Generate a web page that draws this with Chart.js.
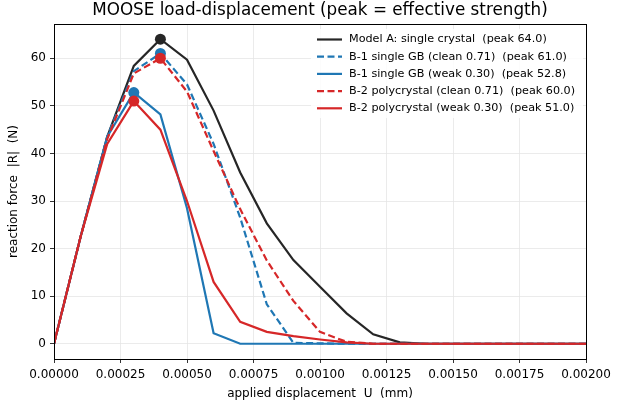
<!DOCTYPE html>
<html>
<head>
<meta charset="utf-8">
<script src="https://cdn.jsdelivr.net/npm/chart.js@4/dist/chart.umd.min.js"></script>
<style>
  html, body { margin: 0; padding: 0; background: #fff; }
  #wrap { width: 624px; height: 406px; }
</style>
</head>
<body>
<div id="wrap"><canvas id="chart" width="624" height="406"></canvas></div>
<script>
// displacement steps (mm)
var displacement = [0, 0.0001, 0.0002, 0.0003, 0.0004, 0.0005, 0.0006, 0.0007, 0.0008, 0.0009, 0.0010,
  0.0011, 0.0012, 0.0013, 0.0014, 0.0015, 0.0016, 0.0017, 0.0018, 0.0019, 0.0020];

// reaction force |R| (N)
var modelA  = [0, 22.5, 43.5, 58.4, 64.0, 59.7, 49.0, 36.0, 25.3, 17.6, 12.0, 6.4, 2.0, 0.3, 0, 0, 0, 0, 0, 0, 0];
var b1Clean = [0, 22.5, 43.5, 57.3, 61.0, 54.5, 42.0, 26.5, 8.3, 0.2, 0.1, 0, 0, 0, 0, 0, 0, 0, 0, 0, 0];
var b1Weak  = [0, 22.5, 43.5, 52.8, 48.2, 28.5, 2.2, 0, 0, 0, 0, 0, 0, 0, 0, 0, 0, 0, 0, 0, 0];
var b2Clean = [0, 22.5, 43.0, 56.8, 60.0, 53.0, 40.5, 28.3, 17.5, 9.0, 2.5, 0.4, 0, 0, 0, 0, 0, 0, 0, 0, 0];
var b2Weak  = [0, 22.5, 42.0, 51.0, 45.0, 30.0, 13.0, 4.6, 2.5, 1.6, 0.9, 0.3, 0, 0, 0, 0, 0, 0, 0, 0, 0];

var seriesLabels = [
  'Model A: single crystal  (peak 64.0)',
  'B-1 single GB (clean 0.71)  (peak 61.0)',
  'B-1 single GB (weak 0.30)  (peak 52.8)',
  'B-2 polycrystal (clean 0.71)  (peak 60.0)',
  'B-2 polycrystal (weak 0.30)  (peak 51.0)'
];

var xTicks = [0, 0.00025, 0.0005, 0.00075, 0.001, 0.00125, 0.0015, 0.00175, 0.002];
var yTicks = [0, 10, 20, 30, 40, 50, 60];

var FONT = '"DejaVu Sans", sans-serif';

function points(values) {
  return displacement.map(function(x, i) { return {x: x, y: values[i]}; });
}

// marker only at the peak of each curve
function peakRadius(values) {
  var peak = Math.max.apply(null, values);
  var idx = values.indexOf(peak);
  return function(ctx) { return ctx.dataIndex === idx ? 5.5 : 0; };
}

function series(i, values, color, dashed) {
  return {
    label: seriesLabels[i],
    data: points(values),
    borderColor: color,
    backgroundColor: color,
    borderWidth: 2.2,
    borderDash: dashed ? [7, 3.5] : [],
    pointRadius: peakRadius(values),
    pointHoverRadius: peakRadius(values),
    pointBorderWidth: 0,
    tension: 0,
    fill: false,
    order: 5 - i
  };
}

var boxPlugin = {
  id: 'box',
  afterDraw: function(chart) {
    var ctx = chart.ctx, a = chart.chartArea;
    ctx.save();

    // axes frame
    ctx.strokeStyle = '#000';
    ctx.lineWidth = 1;
    ctx.strokeRect(Math.round(a.left) + 0.5, Math.round(a.top) + 0.5,
      Math.round(a.right - a.left), Math.round(a.bottom - a.top));

    // title
    ctx.fillStyle = '#000';
    ctx.font = '16.8px ' + FONT;
    ctx.textAlign = 'center';
    ctx.textBaseline = 'middle';
    ctx.fillText('MOOSE load-displacement (peak = effective strength)', (a.left + a.right) / 2, 11);

    // legend inside top right
    var sets = chart.data.datasets;
    var bx = 311, by = 29, bw = 272, bh = 89;
    ctx.fillStyle = 'rgba(255,255,255,0.85)';
    ctx.fillRect(bx, by, bw, bh);
    ctx.font = '11.2px ' + FONT;
    ctx.textAlign = 'left';
    for (var i = 0; i < sets.length; i++) {
      var y = 39.5 + i * 17.2;
      ctx.strokeStyle = sets[i].borderColor;
      ctx.lineWidth = 2.2;
      ctx.setLineDash(sets[i].borderDash);
      ctx.beginPath();
      ctx.moveTo(317, y);
      ctx.lineTo(342, y);
      ctx.stroke();
      ctx.setLineDash([]);
      ctx.fillStyle = '#000';
      ctx.fillText(sets[i].label, 349, y);
    }
    ctx.restore();
  }
};

new Chart(document.getElementById('chart'), {
  type: 'line',
  data: {
    datasets: [
      series(0, modelA, '#262626', false),
      series(1, b1Clean, '#1f77b4', true),
      series(2, b1Weak, '#1f77b4', false),
      series(3, b2Clean, '#d62728', true),
      series(4, b2Weak, '#d62728', false)
    ]
  },
  options: {
    responsive: false,
    animation: false,
    layout: { padding: { top: 24, right: 38, left: 0, bottom: 0 } },
    plugins: {
      legend: { display: false },
      title: { display: false },
      tooltip: { enabled: false }
    },
    scales: {
      x: {
        type: 'linear',
        min: 0,
        max: 0.002,
        afterBuildTicks: function(s) { s.ticks = xTicks.map(function(v) { return {value: v}; }); },
        afterFit: function(s) { s.height = 47; },
        ticks: {
          autoSkip: false,
          maxRotation: 0,
          color: '#000',
          font: { family: FONT, size: 12 },
          padding: 5,
          callback: function(v) { return v.toFixed(5); }
        },
        grid: { color: '#e6e6e6', lineWidth: 0.8, tickColor: '#000', tickLength: 4 },
        border: { display: false },
        title: {
          display: true,
          text: 'applied displacement  U  (mm)',
          color: '#000',
          font: { family: FONT, size: 12 },
          padding: { top: 2, bottom: 5 }
        }
      },
      y: {
        type: 'linear',
        min: -3.2,
        max: 67.2,
        afterBuildTicks: function(s) { s.ticks = yTicks.map(function(v) { return {value: v}; }); },
        afterFit: function(s) { s.width = 54; },
        ticks: {
          color: '#000',
          font: { family: FONT, size: 12 },
          padding: 4
        },
        grid: { color: '#e6e6e6', lineWidth: 0.8, tickColor: '#000', tickLength: 4 },
        border: { display: false },
        title: {
          display: true,
          text: 'reaction force  |R|  (N)',
          color: '#000',
          font: { family: FONT, size: 12 },
          padding: { top: 7, bottom: 2 }
        }
      }
    }
  },
  plugins: [boxPlugin]
});
</script>
</body>
</html>
